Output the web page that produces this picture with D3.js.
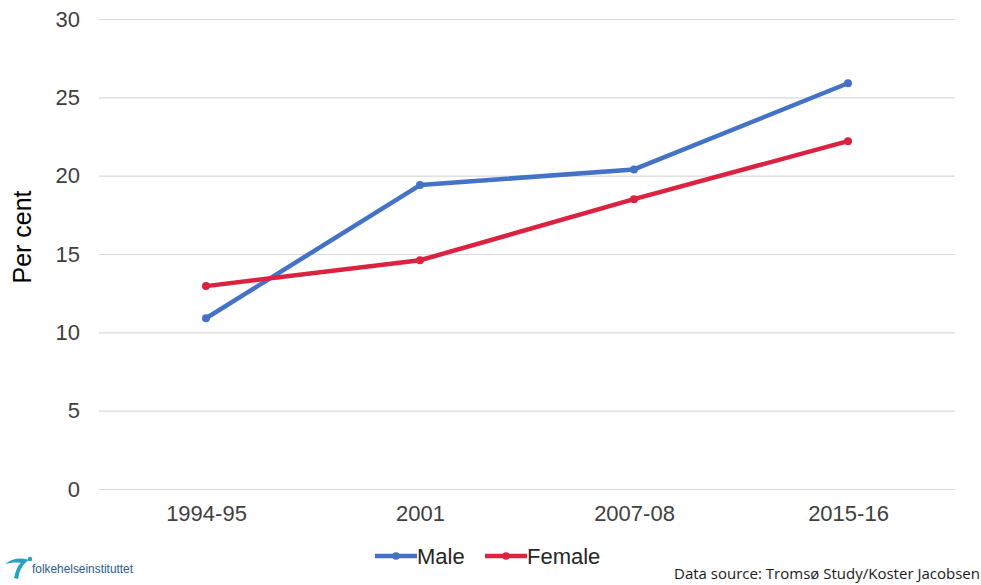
<!DOCTYPE html>
<html>
<head>
<meta charset="utf-8">
<script src="https://cdn.jsdelivr.net/npm/d3@7"></script>
<style>
body{margin:0;background:#fff;}
svg{display:block;}
</style>
</head>
<body>
<svg id="chart" width="981" height="585"></svg>
<script>
const categories = ["1994-95", "2001", "2007-08", "2015-16"];
const maleValues = [10.9, 19.4, 20.4, 25.9];
const femaleValues = [12.95, 14.6, 18.5, 22.2];
const yTicks = [0, 5, 10, 15, 20, 25, 30];
const seriesNames = ["Male", "Female"];

const series = [
  {name: seriesNames[0], values: maleValues, color: "#4472C4"},
  {name: seriesNames[1], values: femaleValues, color: "#DC2241"}
];

const svg = d3.select("#chart");
const margin = {left: 99, right: 26, top: 19, bottom: 96};
const W = 981, H = 585;
const FONT = "Liberation Sans, Arial, sans-serif";

const x = d3.scalePoint().domain(categories).range([margin.left, W - margin.right]).padding(0.5);
const y = d3.scaleLinear().domain([0, 30]).range([H - margin.bottom, margin.top]);

// gridlines
const yAxis = d3.axisLeft(y).tickValues(yTicks).tickSize(-(W - margin.left - margin.right)).tickPadding(19);
const gy = svg.append("g").attr("transform", `translate(${margin.left},0)`).call(yAxis);
gy.select(".domain").remove();
gy.selectAll(".tick line").attr("stroke", "#d9d9d9").attr("stroke-width", 1.2);
gy.selectAll(".tick text").attr("fill", "#404040").style("font-family", FONT).style("font-size", "22px");

const xAxis = d3.axisBottom(x).tickSize(0).tickPadding(16);
const gx = svg.append("g").attr("transform", `translate(0,${y(0)})`).call(xAxis);
gx.select(".domain").remove();
gx.selectAll(".tick text").attr("fill", "#404040").style("font-family", FONT).style("font-size", "22px");

// y label
svg.append("text")
  .attr("transform", `translate(31,${237}) rotate(-90)`)
  .attr("text-anchor", "middle")
  .style("font-family", FONT)
  .style("font-size", "25px")
  .attr("fill", "#000")
  .text("Per cent");

// lines
const line = d3.line().x((d, i) => x(categories[i])).y(d => y(d));
series.forEach(s => {
  svg.append("path").datum(s.values)
    .attr("d", line)
    .attr("fill", "none")
    .attr("stroke", s.color)
    .attr("stroke-width", 4.5)
    .attr("stroke-linejoin", "round");
  svg.selectAll(null).data(s.values).enter().append("circle")
    .attr("cx", (d, i) => x(categories[i]))
    .attr("cy", d => y(d))
    .attr("r", 4)
    .attr("fill", s.color);
});

// legend
const legend = svg.append("g").attr("transform", "translate(375,556)");
const legendOffsets = [0, 110];
series.forEach((s, i) => {
  const g = legend.append("g").attr("transform", `translate(${legendOffsets[i]},0)`);
  g.append("line").attr("x1", 0).attr("x2", 42).attr("y1", 0).attr("y2", 0)
    .attr("stroke", s.color).attr("stroke-width", 4.5);
  g.append("circle").attr("cx", 21).attr("cy", 0).attr("r", 3.8).attr("fill", s.color);
  g.append("text").attr("x", 42).attr("y", 8)
    .style("font-family", FONT).style("font-size", "22px")
    .attr("fill", "#262626").text(s.name);
});

// source
svg.append("text").attr("x", 674).attr("y", 579)
  .attr("textLength", 306).attr("lengthAdjust", "spacingAndGlyphs")
  .style("font-family", "Open Sans, sans-serif").style("font-size", "15px")
  .attr("fill", "#1a1a1a").text("Data source: Tromsø Study/Koster Jacobsen");

// logo
const logo = svg.append("g").attr("transform", "translate(5,557)");
logo.append("path")
  .attr("d", "M0,7 C6,2 15,0 24,3 C19,6 15,11 13,22 L9,21 C11,13 13,8 16,6 C10,5 5,6 0,7 Z")
  .attr("fill", "#2aa0c0");
logo.append("circle").attr("cx", 25).attr("cy", 2).attr("r", 2.2).attr("fill", "#2aa0c0");
logo.append("text").attr("x", 27).attr("y", 16)
  .attr("textLength", 101).attr("lengthAdjust", "spacingAndGlyphs")
  .style("font-family", "Liberation Sans Narrow, Liberation Sans, sans-serif").style("font-size", "12px")
  .attr("fill", "#2a5a8a").text("folkehelseinstituttet");
</script>
</body>
</html>
